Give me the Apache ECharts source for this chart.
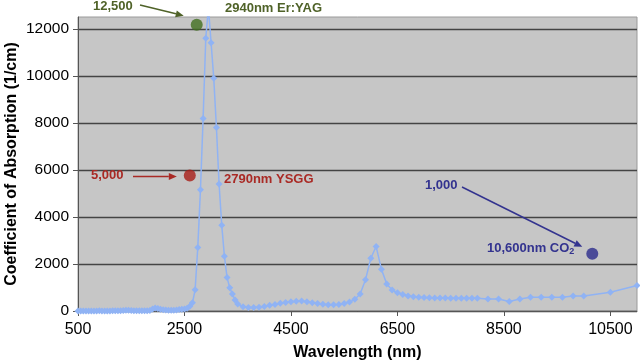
<!DOCTYPE html>
<html><head><meta charset="utf-8">
<script src="https://cdn.jsdelivr.net/npm/echarts@6/dist/echarts.min.js"></script>
<style>html,body{margin:0;padding:0;background:#fff}#c{width:640px;height:363px}</style>
</head><body><div id="c"></div>
<script>
const wavelengthNm = [
  500,550,600,650,700,750,800,850,900,950,1000,1050,1100,1150,1200,1250,1300,1350,1400,1450,
  1500,1550,1600,1650,1700,1750,1800,1850,1900,1950,2000,2050,2100,2150,2200,2250,2300,2350,2400,2450,
  2500,2550,2600,2650,2700,2750,2800,2850,2900,2950,3000,3050,3100,3150,3200,3250,3300,3350,3400,3450,
  3500,3600,3700,3800,3900,4000,4100,4200,4300,4400,4500,4600,4700,4800,4900,5000,5100,5200,5300,5400,
  5500,5600,5700,5800,5900,6000,6100,6200,6300,6400,6500,6600,6700,6800,6900,7000,7100,7200,7300,7400,
  7500,7600,7700,7800,7900,8000,8200,8400,8600,8800,9000,9200,9400,9600,9800,10000,10500,11000
];
const absorption = [
  0,0,0,0,1,3,2,4,7,4,4,2,2,10,12,9,12,20,28,32,
  24,12,8,7,8,10,12,20,90,130,110,70,50,38,32,30,35,45,60,70,
  90,115,200,350,900,2700,5150,8180,11600,12900,11400,9900,7800,5400,3650,2330,1420,990,720,470,
  300,180,150,145,160,195,240,280,325,365,395,415,420,395,350,320,290,270,265,275,
  315,380,500,720,1330,2240,2740,1770,1150,890,780,700,640,605,585,570,560,555,550,550,
  545,545,545,540,540,540,510,510,400,510,580,580,580,585,640,640,800,1080
];
const xTickValues = [500, 2500, 4500, 6500, 8500, 10500];
const yTickValues = [0, 2000, 4000, 6000, 8000, 10000, 12000];
const laserNames = ['2940nm Er:YAG', '2790nm YSGG', '10,600nm CO'];
const laserValueLabels = ['12,500', '5,000', '1,000'];
const laserDotX = [2730, 2600, 10160];
const laserDotY = [12170, 5760, 2430];
const laserColors = ['#416f1f', '#a81e18', '#2c2c8c'];
const laserTextColors = ['#4f6228', '#a92a25', '#33338f'];

const chart = echarts.init(document.getElementById('c'), null, {renderer: 'canvas'});
const FONT = '"Liberation Sans", Arial, sans-serif';
const option = {
  animation: false,
  backgroundColor: '#ffffff',
  grid: {left: 78, right: 3, top: 17, bottom: 52, containLabel: false, outerBoundsMode: 'none',
         show: true, backgroundColor: '#c6c6c6', borderColor: '#9a9a9a', borderWidth: 1},
  xAxis: {
    type: 'value', min: 500, max: 11000,
    name: 'Wavelength (nm)', nameLocation: 'middle', nameGap: 34, nameMoveOverlap: false,
    nameTextStyle: {fontFamily: FONT, fontSize: 16, fontWeight: 'bold', color: '#000'},
    axisLine: {lineStyle: {color: '#555', width: 1}},
    axisTick: {show: true, length: 5, customValues: xTickValues, lineStyle: {color: '#555'}},
    axisLabel: {customValues: xTickValues, formatter: v => String(v), fontFamily: FONT, fontSize: 16, color: '#000', margin: 11},
    splitLine: {show: false}
  },
  yAxis: {
    type: 'value', min: 0, max: 12500,
    name: 'Coefficient of Absorption (1/cm)', nameLocation: 'middle', nameGap: 58, nameMoveOverlap: false,
    nameTextStyle: {fontFamily: FONT, fontSize: 16, fontWeight: 'bold', color: '#000'},
    axisLine: {show: true, lineStyle: {color: '#555', width: 1}},
    axisTick: {show: true, length: 5, customValues: yTickValues, lineStyle: {color: '#555'}},
    axisLabel: {customValues: yTickValues, formatter: v => String(v), fontFamily: FONT, fontSize: 15.5, color: '#000', margin: 9},
    splitLine: {show: true, lineStyle: {color: '#444', width: 1.4}}
  },
  series: [
    {
      type: 'line', clip: true,
      data: wavelengthNm.map((w, i) => [w, absorption[i]]),
      symbol: 'diamond', symbolSize: 7, showAllSymbol: true,
      lineStyle: {color: '#90b3f4', width: 1.5},
      itemStyle: {color: '#90b3f4'}
    },
    {
      type: 'scatter', symbol: 'circle', symbolSize: 12, clip: false,
      data: laserDotX.map((x, i) => ({value: [x, laserDotY[i]], itemStyle: {color: laserColors[i]}}))
    }
  ]
};
chart.setOption(option);

function arrow(x1, y1, x2, y2, color, w, head) {
  const a = Math.atan2(y2 - y1, x2 - x1), L = head ? 8 : 0, W = 3.5;
  const bx = x2 - L * Math.cos(a), by = y2 - L * Math.sin(a);
  const els = [{type: 'line', shape: {x1, y1, x2: bx, y2: by}, style: {stroke: color, lineWidth: w}}];
  if (head) els.push({type: 'polygon', shape: {points: [[x2, y2], [bx + W * Math.sin(a), by - W * Math.cos(a)], [bx - W * Math.sin(a), by + W * Math.cos(a)]]}, style: {fill: color}});
  return els;
}
function txt(x, y, s, color) {
  return {type: 'text', x, y, style: {text: s, fill: color, fontFamily: FONT, fontSize: 13, fontWeight: 'bold', verticalAlign: 'middle', align: 'left'}};
}
const dp = laserDotX.map((x, i) => chart.convertToPixel({gridIndex: 0}, [x, laserDotY[i]]));
const g = [];
g.push(txt(93, 6, laserValueLabels[0], laserTextColors[0]));
g.push(...arrow(140, 5, dp[0][0] - 13, dp[0][1] - 9, laserTextColors[0], 1.5, true));
g.push(txt(225, 8, laserNames[0], laserTextColors[0]));
g.push(txt(91, 175, laserValueLabels[1], laserTextColors[1]));
g.push(...arrow(133, dp[1][1] + 1, dp[1][0] - 13, dp[1][1] + 1, laserTextColors[1], 1.5, true));
g.push(txt(224, 179.5, laserNames[1], laserTextColors[1]));
g.push(txt(425, 185, laserValueLabels[2], laserTextColors[2]));
g.push(...arrow(462, 187, dp[2][0] - 10, dp[2][1] - 7, laserTextColors[2], 1.5, true));
g.push({type: 'text', x: 487, y: 248, style: {
  text: '{a|' + laserNames[2] + '}{b|2}', fill: laserTextColors[2], verticalAlign: 'middle', align: 'left',
  rich: {a: {fontFamily: FONT, fontSize: 13, fontWeight: 'bold', fill: laserTextColors[2], color: laserTextColors[2]},
         b: {fontFamily: FONT, fontSize: 9, fontWeight: 'bold', fill: laserTextColors[2], color: laserTextColors[2], verticalAlign: 'bottom', padding: [8, 0, 0, 0]}}
}});
chart.setOption({graphic: g});
</script></body></html>
